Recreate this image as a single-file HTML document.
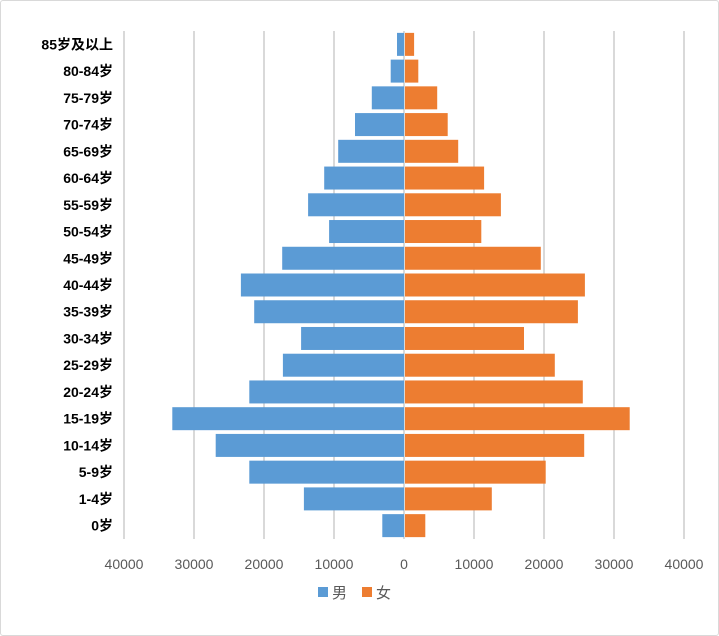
<!DOCTYPE html>
<html><head><meta charset="utf-8"><style>
body{margin:0;background:#fff;}
#wrap{position:relative;width:717px;height:634px;border:1px solid #d9d9d9;border-radius:3px;background:#fff;overflow:hidden}
svg text{font-family:"Liberation Sans","Noto Sans CJK SC",sans-serif;}
</style></head><body>
<div id="wrap">
<svg id="chart" width="717" height="634"></svg>
</div>
<script>
const categories=["85岁及以上","80-84岁","75-79岁","70-74岁","65-69岁","60-64岁","55-59岁","50-54岁","45-49岁","40-44岁","35-39岁","30-34岁","25-29岁","20-24岁","15-19岁","10-14岁","5-9岁","1-4岁","0岁"];
const maleValues=[1000,1900,4600,7000,9400,11400,13700,10700,17400,23300,21400,14700,17300,22100,33100,26900,22100,14300,3100];
const femaleValues=[1300,1900,4600,6100,7600,11300,13700,10900,19400,25700,24700,17000,21400,25400,32100,25600,20100,12400,2900];
const tickValues=[-40000,-30000,-20000,-10000,0,10000,20000,30000,40000];
const tickLabels=["40000","30000","20000","10000","0","10000","20000","30000","40000"];

const NS="http://www.w3.org/2000/svg";
const svgEl=document.getElementById('chart');
const x0=403, pxPer=70/10000, plotTop=30, plotBottom=538;
const rowH=(plotBottom-plotTop)/categories.length;
function xs(v){return x0+v*pxPer;}
function yc(i){return plotTop+rowH*(i+0.5);}
function mk(t,a){const e=document.createElementNS(NS,t);for(const k in a)e.setAttribute(k,a[k]);svgEl.appendChild(e);return e;}

tickValues.forEach((v,i)=>{
  const g=mk('line',{x1:xs(v),x2:xs(v),y1:plotTop,y2:plotBottom,stroke:'#d9d9d9','stroke-width':2});
  
  
  const t=mk('text',{x:xs(v),y:568,'text-anchor':'middle','font-size':14,fill:'#595959'});
  t.textContent=tickLabels[i];
  
  
});
const bh=rowH*0.86;
categories.forEach((c,i)=>{
  const y=yc(i);
  const m=maleValues[i], f=femaleValues[i];
  const r1=mk('rect',{x:xs(-m),y:y-bh/2,width:xs(0)-xs(-m),height:bh,fill:'#5b9bd5'});
  
  
  const r2=mk('rect',{x:xs(0)+1,y:y-bh/2,width:xs(f)-xs(0),height:bh,fill:'#ed7d31'});
  
  
  const t=mk('text',{x:112,y:y+5,'text-anchor':'end','font-size':14,'font-weight':'bold',fill:'#000'});
  t.textContent=c;
  
  
});
const leg=[["男","#5b9bd5",317],["女","#ed7d31",361]];
leg.forEach(l=>{
  const r=mk('rect',{x:l[2],y:586,width:10,height:10,fill:l[1]});
  
  
  const t=mk('text',{x:l[2]+14,y:597,'font-size':15,fill:'#595959'});
  t.textContent=l[0];
  
  
});
</script>
</body></html>
